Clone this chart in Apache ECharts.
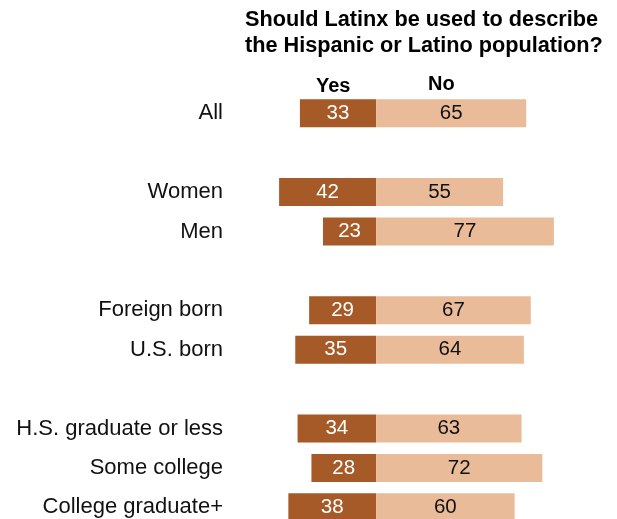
<!DOCTYPE html>
<html>
<head>
<meta charset="utf-8">
<script src="https://cdn.jsdelivr.net/npm/echarts@6/dist/echarts.min.js"></script>
<style>
  html, body { margin: 0; padding: 0; background: #fff; }
  #chart { width: 617px; height: 519px; }
</style>
</head>
<body>
<div id="chart"></div>
<script>
// Survey groups; empty strings leave a spacer row between groups
const categories = ['All', '', 'Women', 'Men', '', 'Foreign born', 'U.S. born', '', 'H.S. graduate or less', 'Some college', 'College graduate+'];
const yesValues = [33, null, 42, 23, null, 29, 35, null, 34, 28, 38];
const noValues = [65, null, 55, 77, null, 67, 64, null, 63, 72, 60];
const titleLines = ['Should Latinx be used to describe', 'the Hispanic or Latino population?'];
const seriesNames = ['Yes', 'No'];

const chart = echarts.init(document.getElementById('chart'), null, { renderer: 'canvas' });

const FONT = '"Liberation Sans", Arial, sans-serif';

chart.setOption({
  animation: false,
  backgroundColor: '#ffffff',
  title: {
    text: titleLines.join('\n'),
    left: 245,
    top: 7,
    padding: 0,
    textStyle: {
      fontFamily: FONT,
      fontSize: 21.7,
      fontWeight: 'bold',
      lineHeight: 26,
      color: '#000'
    }
  },
  graphic: [
    {
      type: 'text', left: 336 - 20, top: 76,
      style: { text: seriesNames[0], font: 'bold 20px ' + FONT, fill: '#000', width: 40, align: 'center' }
    },
    {
      type: 'text', left: 448 - 20, top: 74,
      style: { text: seriesNames[1], font: 'bold 20px ' + FONT, fill: '#000', width: 40, align: 'center' }
    }
  ],
  // rows sit on the grid edges so the last row may run close to the bottom
  grid: { left: 226, top: 113.3, width: 381, height: 394, containLabel: false },
  xAxis: {
    type: 'value', min: -65, max: 100, show: false
  },
  yAxis: {
    type: 'category',
    data: categories,
    inverse: true,
    boundaryGap: false,
    axisLine: { show: false },
    axisTick: { show: false },
    splitLine: { show: false },
    axisLabel: { fontFamily: FONT, fontSize: 22, color: '#111', margin: 3 }
  },
  series: [
    {
      name: seriesNames[0],
      type: 'bar',
      data: yesValues.map(v => v == null ? null : -v),
      barWidth: 28,
      barGap: '-100%',
      itemStyle: { color: '#a55a27' },
      label: {
        show: true, position: 'inside', color: '#fff',
        fontFamily: FONT, fontSize: 20.5,
        formatter: p => Math.abs(p.value)
      }
    },
    {
      name: seriesNames[1],
      type: 'bar',
      data: noValues,
      barWidth: 28,
      barGap: '-100%',
      itemStyle: { color: '#e9bb99' },
      label: {
        show: true, position: 'inside', color: '#111',
        fontFamily: FONT, fontSize: 20.5,
        formatter: p => p.value
      }
    }
  ]
});
</script>
</body>
</html>
